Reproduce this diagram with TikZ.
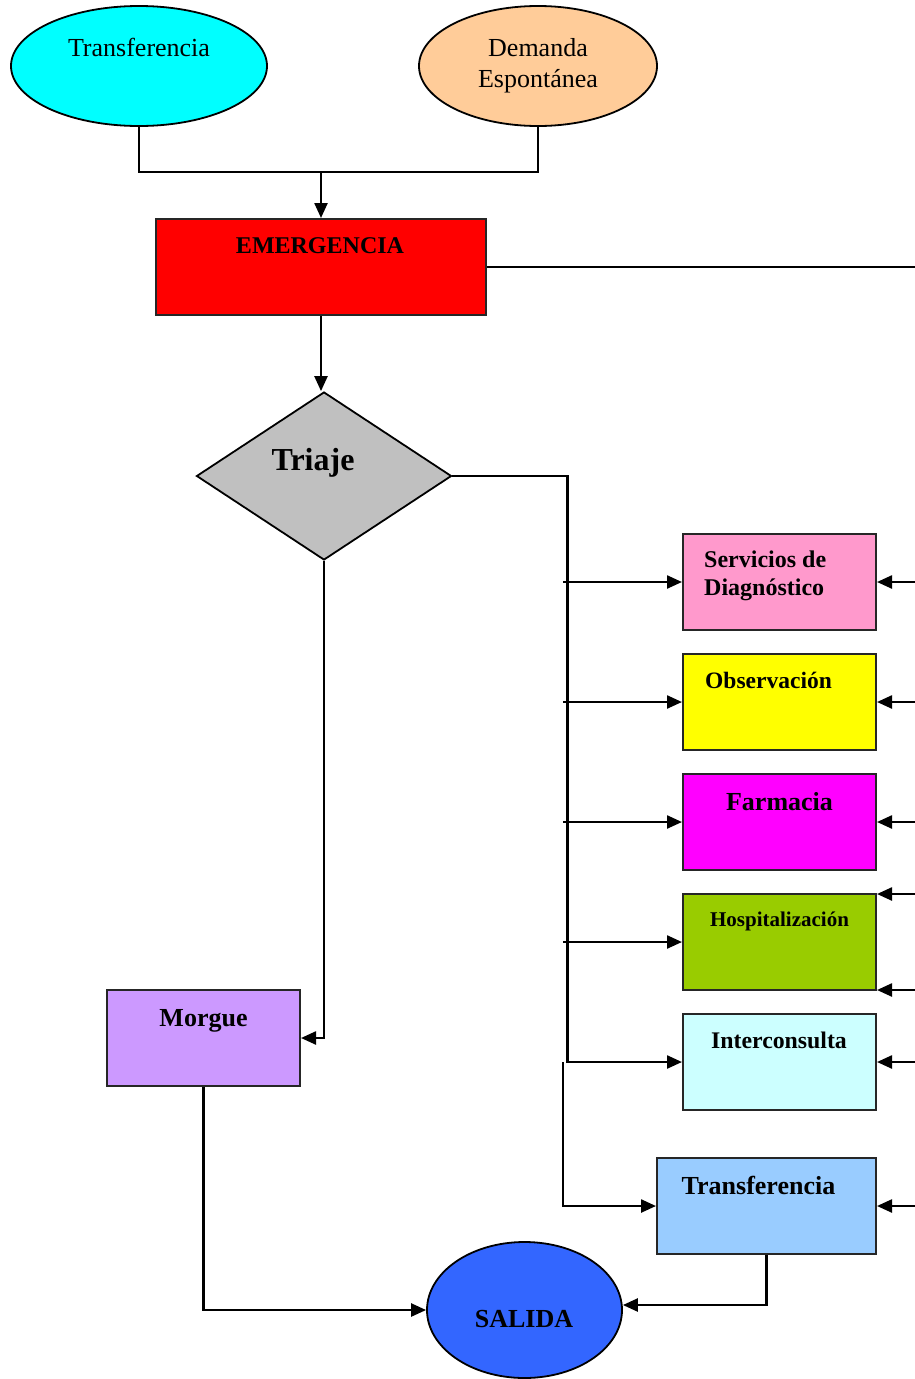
\documentclass[tikz,border=0pt]{standalone}
\usepackage{fontspec}
\setmainfont{Liberation Serif}
\usetikzlibrary{shapes.geometric,arrows.meta}

\definecolor{cCyan}{HTML}{00FFFF}
\definecolor{cPeach}{HTML}{FFCC99}
\definecolor{cRed}{HTML}{FF0000}
\definecolor{cGray}{HTML}{C0C0C0}
\definecolor{cPink}{HTML}{FF99CC}
\definecolor{cYellow}{HTML}{FFFF00}
\definecolor{cMagenta}{HTML}{FF00FF}
\definecolor{cOlive}{HTML}{99CC00}
\definecolor{cIce}{HTML}{CCFFFF}
\definecolor{cSky}{HTML}{99CCFF}
\definecolor{cLilac}{HTML}{CC99FF}
\definecolor{cBlue}{HTML}{3366FF}

\tikzset{
  box/.style={draw=black!85, line width=2pt, rectangle, inner sep=0pt},
  oval/.style={draw=black, line width=1.8pt, ellipse, inner sep=0pt},
  lbl/.style={inner sep=0pt, anchor=base},
  conn/.style={line width=2.4pt},
  arr/.style={line width=2.4pt, -{Triangle[length=15pt,width=13pt]}},
  reg/.style={font=\fontsize{26}{31}\selectfont},
}

\begin{document}
\begin{tikzpicture}[x=1pt,y=-1pt]
\useasboundingbox (0,0) rectangle (915,1379);

% entry points
\node[oval, fill=cCyan, minimum width=256pt, minimum height=120pt] (transIn) at (139,66) {};
\node[oval, fill=cPeach, minimum width=238pt, minimum height=120pt] (demanda) at (538,66) {};
\node[lbl, reg] (tTransIn) at (139,56) {Transferencia};
\node[lbl, reg, align=center] (tDemanda) at (538,87) {Demanda\\Espontánea};

% emergency and triage
\node[box, fill=cRed, minimum width=330pt, minimum height=96pt] (emerg) at (321,267) {};
\node[lbl, font=\fontsize{24}{28}\selectfont\bfseries] (tEmerg) at (320,253) {EMERGENCIA};

\node[draw=black, line width=1.8pt, diamond, fill=cGray, minimum width=255pt, minimum height=168pt, inner sep=0pt] (triaje) at (324,476) {};
\node[lbl, font=\fontsize{32}{36}\selectfont\bfseries] (tTriaje) at (313,470) {Triaje};

% services
\node[box, fill=cPink, minimum width=193pt, minimum height=96pt] (diag) at (779.5,582) {};
\node[box, fill=cYellow, minimum width=193pt, minimum height=96pt] (obs) at (779.5,702) {};
\node[box, fill=cMagenta, minimum width=193pt, minimum height=96pt] (farm) at (779.5,822) {};
\node[box, fill=cOlive, minimum width=193pt, minimum height=96pt] (hosp) at (779.5,942) {};
\node[box, fill=cIce, minimum width=193pt, minimum height=96pt] (inter) at (779.5,1062) {};
\node[box, fill=cSky, minimum width=219pt, minimum height=96pt] (transOut) at (766.5,1206) {};

\node[lbl, anchor=base west, align=left, font=\fontsize{24}{28}\selectfont\bfseries] (tDiag) at (704,595) {Servicios de\\Diagnóstico};
\node[lbl, anchor=base west, font=\fontsize{23.5}{28}\selectfont\bfseries] (tObs) at (705,688) {Observación};
\node[lbl, font=\fontsize{26}{30}\selectfont\bfseries] (tFarm) at (779.5,810) {Farmacia};
\node[lbl, font=\fontsize{21}{25}\selectfont\bfseries] (tHosp) at (779.5,926) {Hospitalización};
\node[lbl, font=\fontsize{23.8}{28}\selectfont\bfseries] (tInter) at (779,1048) {Interconsulta};
\node[lbl, font=\fontsize{26}{30}\selectfont\bfseries] (tTransOut) at (758.5,1194) {Transferencia};

% exits
\node[box, fill=cLilac, minimum width=193pt, minimum height=96pt] (morgue) at (203.5,1038) {};
\node[lbl, font=\fontsize{26}{30}\selectfont\bfseries] (tMorgue) at (203.5,1026) {Morgue};
\node[oval, fill=cBlue, minimum width=195pt, minimum height=136pt] (salida) at (524.5,1310) {};
\node[lbl, font=\fontsize{26}{30}\selectfont\bfseries] (tSalida) at (524,1327) {SALIDA};

% free ends of connectors
\coordinate (join) at (321,172);
\coordinate (eOut) at (915,267);
\foreach \n/\y in {1/582,2/702,3/822,4/894,5/990,6/1062,7/1206}
  \coordinate (r\n) at (915,\y);
\foreach \n/\y in {1/582,2/702,3/822,4/942}
  \coordinate (l\n) at (563,\y);
\coordinate (split) at (563,1062);

% connectors
\draw[conn] (transIn.south) |- (join) -| (demanda.south);
\draw[arr] (join) -- (emerg.north);
\draw[conn] (emerg.east) -- (eOut);
\draw[arr] (emerg.south) -- (emerg.south |- triaje.north);
\draw[arr] (triaje.east) -- ++(115,0) |- (inter.west);
\draw[arr] (l1) -- (diag.west);
\draw[arr] (l2) -- (obs.west);
\draw[arr] (l3) -- (farm.west);
\draw[arr] (l4) -- (hosp.west);
\draw[arr] (split) |- (transOut.west);
\draw[arr] (r1) -- (diag.east);
\draw[arr] (r2) -- (obs.east);
\draw[arr] (r3) -- (farm.east);
\draw[arr] (r4) -- (r4 -| hosp.east);
\draw[arr] (r5) -- (r5 -| hosp.east);
\draw[arr] (r6) -- (inter.east);
\draw[arr] (r7) -- (transOut.east);
\draw[arr] (triaje.south) |- (morgue.east);
\draw[arr] (morgue.south) |- (salida.west);
\draw[arr] (transOut.south) |- ([yshift=5pt]salida.east);
\end{tikzpicture}
\end{document}
